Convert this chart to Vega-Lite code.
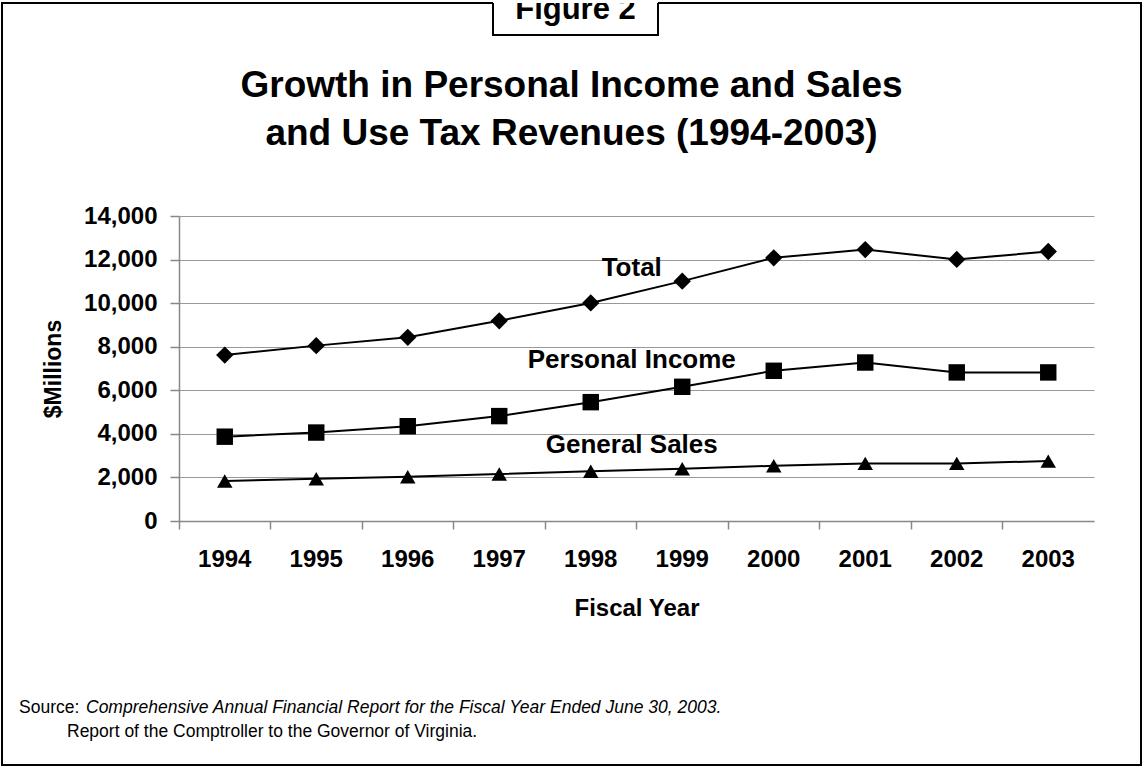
{
  "$schema": "https://vega.github.io/schema/vega-lite/v6.json",
  "autosize": {"type": "pad"},
  "padding": {"left": 1, "top": 2, "right": 0, "bottom": 0},
  "background": "white",
  "config": {"font": "Liberation Sans", "view": {"stroke": null}},
  "datasets": {
    "revenue": [
      {"year": "1994", "series": "Total", "value": 7615},
      {"year": "1995", "series": "Total", "value": 8050},
      {"year": "1996", "series": "Total", "value": 8430},
      {"year": "1997", "series": "Total", "value": 9190},
      {"year": "1998", "series": "Total", "value": 10010},
      {"year": "1999", "series": "Total", "value": 11010},
      {"year": "2000", "series": "Total", "value": 12080},
      {"year": "2001", "series": "Total", "value": 12460},
      {"year": "2002", "series": "Total", "value": 12005},
      {"year": "2003", "series": "Total", "value": 12370},
      {"year": "1994", "series": "Personal Income", "value": 3870},
      {"year": "1995", "series": "Personal Income", "value": 4060},
      {"year": "1996", "series": "Personal Income", "value": 4350},
      {"year": "1997", "series": "Personal Income", "value": 4815},
      {"year": "1998", "series": "Personal Income", "value": 5455},
      {"year": "1999", "series": "Personal Income", "value": 6160},
      {"year": "2000", "series": "Personal Income", "value": 6895},
      {"year": "2001", "series": "Personal Income", "value": 7275},
      {"year": "2002", "series": "Personal Income", "value": 6820},
      {"year": "2003", "series": "Personal Income", "value": 6820},
      {"year": "1994", "series": "General Sales", "value": 1835},
      {"year": "1995", "series": "General Sales", "value": 1940},
      {"year": "1996", "series": "General Sales", "value": 2030},
      {"year": "1997", "series": "General Sales", "value": 2155},
      {"year": "1998", "series": "General Sales", "value": 2280},
      {"year": "1999", "series": "General Sales", "value": 2400},
      {"year": "2000", "series": "General Sales", "value": 2535},
      {"year": "2001", "series": "General Sales", "value": 2645},
      {"year": "2002", "series": "General Sales", "value": 2645},
      {"year": "2003", "series": "General Sales", "value": 2750}
    ],
    "labels": [
      {"year": "1998", "value": 11613, "label": "Total"},
      {"year": "1998", "value": 7390, "label": "Personal Income"},
      {"year": "1998", "value": 3488, "label": "General Sales"}
    ]
  },
  "title": {
    "text": "Comprehensive Annual Financial Report for the Fiscal Year Ended June 30, 2003.",
    "orient": "bottom",
    "anchor": "start",
    "font": "Liberation Sans",
    "fontSize": 17.5,
    "fontWeight": "normal",
    "fontStyle": "italic",
    "color": "black",
    "offset": -67,
    "dx": 85
  },
  "spacing": 0,
  "bounds": "flush",
  "vconcat": [
    {
      "spacing": 0,
      "bounds": "flush",
      "hconcat": [
        {
          "width": 491,
          "height": 32,
          "view": {"stroke": "black", "strokeWidth": 2, "strokeDash": [491, 523, 40]},
          "title": {
            "text": "Source:",
            "orient": "bottom",
            "anchor": "start",
            "frame": "group",
            "font": "Liberation Sans",
            "fontSize": 17.5,
            "fontWeight": "normal",
            "color": "black",
            "offset": 664,
            "dx": 17
          },
          "data": {"values": [{"label": ""}]},
          "mark": {"type": "text"},
          "encoding": {"text": {"field": "label"}}
        },
        {
          "width": 165,
          "height": 32,
          "view": {"stroke": "black", "strokeWidth": 2, "strokeDash": [0, 165, 300]},
          "title": {
            "text": "Report of the Comptroller to the Governor of Virginia.",
            "orient": "bottom",
            "anchor": "start",
            "frame": "group",
            "font": "Liberation Sans",
            "fontSize": 17.5,
            "fontWeight": "normal",
            "color": "black",
            "offset": 688,
            "dx": -426
          },
          "data": {"values": [{"label": "Figure 2"}]},
          "mark": {"type": "text", "font": "Liberation Sans", "fontSize": 31, "fontWeight": "bold", "baseline": "alphabetic", "color": "black", "clip": true},
          "encoding": {"text": {"field": "label"}}
        },
        {
          "width": 483,
          "height": 32,
          "view": {"stroke": "black", "strokeWidth": 2, "strokeDash": [515, 600]},
          "data": {"values": [{"label": ""}]},
          "mark": {"type": "text"},
          "encoding": {"text": {"field": "label"}}
        }
      ]
    },
    {
      "width": 1139,
      "height": 762,
      "view": {"stroke": "black", "strokeWidth": 2, "strokeDash": [0, 1139, 5000]},
      "title": {
        "text": ["Growth in Personal Income and Sales", "and Use Tax Revenues (1994-2003)"],
        "font": "Liberation Sans",
        "fontSize": 37,
        "fontWeight": "bold",
        "lineHeight": 48,
        "color": "black",
        "anchor": "middle",
        "frame": "group",
        "offset": -150
      },
      "encoding": {
        "x": {
          "field": "year",
          "type": "ordinal",
          "scale": {"type": "band", "range": [177, 1092], "paddingInner": 0, "paddingOuter": 0},
          "axis": {
            "orient": "bottom",
            "offset": -244,
            "bandPosition": 0,
            "grid": false,
            "tickSize": 8,
            "tickColor": "#888",
            "tickWidth": 1.5,
            "domainColor": "#888",
            "domainWidth": 1.5,
            "labelAngle": 0,
            "labelFontSize": 24,
            "labelFontWeight": "bold",
            "labelColor": "black",
            "labelPadding": 18,
            "title": "Fiscal Year",
            "titleFontSize": 24,
            "titleFontWeight": "bold",
            "titleColor": "black",
            "titlePadding": 25
          }
        },
        "y": {
          "field": "value",
          "type": "quantitative",
          "scale": {"domain": [0, 14000], "range": [518, 213], "nice": false},
          "axis": {
            "orient": "left",
            "offset": -177,
            "values": [0, 2000, 4000, 6000, 8000, 10000, 12000, 14000],
            "format": ",d",
            "grid": true,
            "gridColor": "#999",
            "gridWidth": 1.2,
            "tickSize": 9,
            "tickColor": "#888",
            "tickWidth": 1.5,
            "domainColor": "#888",
            "domainWidth": 1.5,
            "labelFontSize": 24,
            "labelFontWeight": "bold",
            "labelColor": "black",
            "labelPadding": 13,
            "title": "$Millions",
            "titleFontSize": 23,
            "titleFontWeight": "bold",
            "titleColor": "black",
            "titlePadding": 18
          }
        }
      },
      "layer": [
        {
          "data": {"name": "revenue"},
          "mark": {"type": "line", "color": "black", "strokeWidth": 2},
          "encoding": {"detail": {"field": "series"}}
        },
        {
          "data": {"name": "revenue"},
          "mark": {"type": "point", "filled": true, "color": "black", "opacity": 1},
          "encoding": {
            "shape": {"field": "series", "type": "nominal", "scale": {"domain": ["Total", "Personal Income", "General Sales"], "range": ["diamond", "square", "triangle-up"]}, "legend": null},
            "size": {"field": "series", "type": "ordinal", "scale": {"domain": ["Total", "Personal Income", "General Sales"], "range": [300, 240, 340]}, "legend": null}
          }
        },
        {
          "data": {"name": "labels"},
          "mark": {"type": "text", "font": "Liberation Sans", "fontSize": 26, "fontWeight": "bold", "color": "black", "align": "center", "baseline": "middle", "dx": 41},
          "encoding": {"text": {"field": "label"}}
        }
      ]
    }
  ]
}
